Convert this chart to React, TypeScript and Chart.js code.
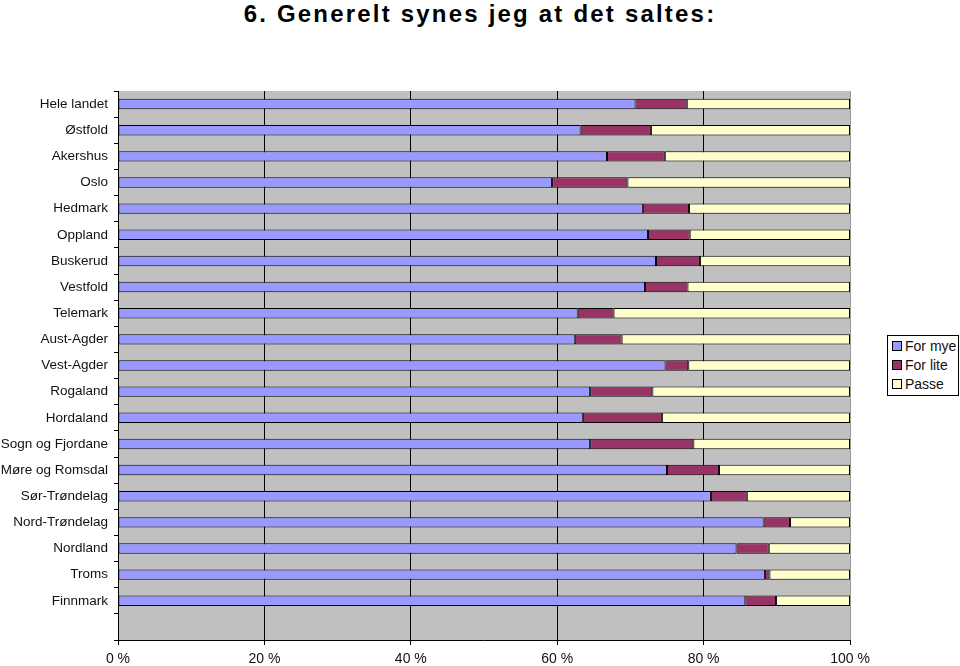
import React, { useEffect, useRef } from "react";
import { Chart, registerables } from "chart.js";

Chart.register(...registerables);

const TITLE = "6. Generelt synes jeg at det saltes:";
const categories = [
  "Hele landet", "Østfold", "Akershus", "Oslo", "Hedmark", "Oppland", "Buskerud",
  "Vestfold", "Telemark", "Aust-Agder", "Vest-Agder", "Rogaland", "Hordaland",
  "Sogn og Fjordane", "Møre og Romsdal", "Sør-Trøndelag", "Nord-Trøndelag",
  "Nordland", "Troms", "Finnmark", "",
];
const forMye = [70.7, 63.2, 66.8, 59.3, 71.7, 72.4, 73.5, 72.0, 62.8, 62.4, 74.8, 64.5, 63.5, 64.5, 75.0, 81.0, 88.2, 84.5, 88.4, 85.7, null];
const forLite = [7.0, 9.6, 7.9, 10.3, 6.3, 5.7, 6.0, 5.8, 4.9, 6.4, 3.1, 8.5, 10.8, 14.1, 7.1, 4.9, 3.6, 4.4, 0.6, 4.2, null];
const passe = [22.3, 27.2, 25.3, 30.4, 22.0, 21.9, 20.5, 22.2, 32.3, 31.2, 22.1, 27.0, 25.7, 21.4, 17.9, 14.1, 8.2, 11.1, 11.0, 10.1, null];
const xTicks = [0, 20, 40, 60, 80, 100];
const seriesNames = ["For mye", "For lite", "Passe"];
const seriesColors = ["#9999FF", "#993366", "#FFFFCC"];

const FONT = "'Liberation Sans', Arial, sans-serif";

const bgPlugin = {
  id: "plotBg",
  beforeDraw(chart: any) {
    const { ctx, chartArea } = chart;
    ctx.save();
    ctx.fillStyle = "#C0C0C0";
    ctx.fillRect(chartArea.left, chartArea.top, chartArea.right - chartArea.left, chartArea.bottom - chartArea.top);
    ctx.restore();
  },
};

export default function App() {
  const ref = useRef<HTMLCanvasElement | null>(null);
  useEffect(() => {
    if (!ref.current) return;
    const values = [forMye, forLite, passe];
    const chart = new Chart(ref.current, {
      type: "bar",
      data: {
        labels: categories,
        datasets: seriesNames.map((name, i) => ({
          label: name,
          data: values[i] as any,
          backgroundColor: seriesColors[i],
          borderColor: "#000",
          borderWidth: 1,
          borderSkipped: false,
          barPercentage: 0.4,
          categoryPercentage: 1,
        })),
      },
      plugins: [bgPlugin],
      options: {
        indexAxis: "y",
        animation: false,
        responsive: false,
        maintainAspectRatio: false,
        layout: { padding: { left: 0, right: 110, top: 91, bottom: 0 } },
        plugins: { legend: { display: false }, tooltip: { enabled: false }, title: { display: false } },
        scales: {
          x: {
            stacked: true,
            min: 0,
            max: 100,
            afterBuildTicks: (scale: any) => {
              scale.ticks = xTicks.map((v) => ({ value: v }));
            },
            afterFit: (scale: any) => {
              scale.height = 26;
            },
            ticks: {
              callback: (v: any) => v + " %",
              color: "#111",
              font: { family: FONT, size: 14 },
              padding: 6,
              maxRotation: 0,
            },
            grid: {
              color: (c: any) => (c.tick && c.tick.value === 100 ? "#9a9a9a" : "#000"),
              tickColor: "#000",
              tickLength: 5,
              lineWidth: 1,
            },
            border: { color: "#000", width: 1 },
          },
          y: {
            stacked: true,
            afterFit: (scale: any) => {
              scale.width = 118;
            },
            ticks: {
              color: "#111",
              font: { family: FONT, size: 13.5 },
              padding: 6,
              autoSkip: false,
            },
            grid: {
              drawOnChartArea: false,
              color: "#000",
              tickLength: 4,
            },
            border: { color: "#000", width: 1 },
          },
        },
      },
    });
    return () => chart.destroy();
  }, []);

  return (
    <div style={{ position: "absolute", left: 0, top: 0, width: 960, height: 666, background: "#fff" }}>
      <div
        style={{
          position: "absolute",
          left: 0,
          top: -1,
          width: 960,
          textAlign: "center",
          fontFamily: FONT,
          fontSize: 24,
          fontWeight: "bold",
          letterSpacing: 2.2,
          color: "#000",
          lineHeight: "30px",
          whiteSpace: "nowrap",
        }}
      >
        {TITLE}
      </div>
      <canvas ref={ref} width={960} height={666} style={{ position: "absolute", left: 0, top: 0 }} />
      <div
        style={{
          position: "absolute",
          left: 887,
          top: 335,
          width: 70,
          height: 59,
          border: "1px solid #000",
          background: "#fff",
          fontFamily: FONT,
          fontSize: 14,
          color: "#111",
        }}
      >
        {seriesNames.map((n, i) => (
          <div key={n} style={{ position: "absolute", left: 4, top: 1.5 + i * 19, height: 16, lineHeight: "16px", whiteSpace: "nowrap" }}>
            <span
              style={{
                display: "inline-block",
                width: 8,
                height: 8,
                border: "1px solid #000",
                background: seriesColors[i],
                marginRight: 3,
                verticalAlign: "middle",
                position: "relative",
                top: -1,
              }}
            />
            {n}
          </div>
        ))}
      </div>
    </div>
  );
}
